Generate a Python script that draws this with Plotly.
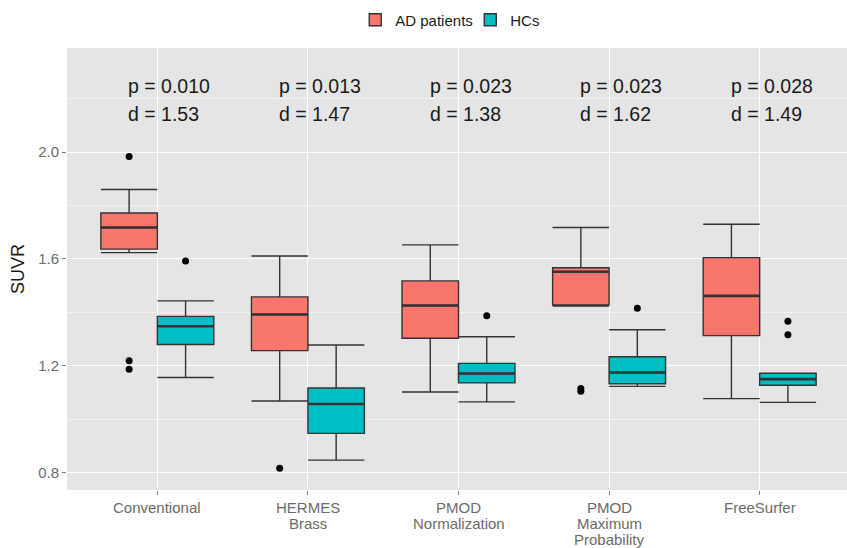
import plotly.graph_objects as go

categories = ["Conventional", "HERMES<br>Brass", "PMOD<br>Normalization", "PMOD<br>Maximum<br>Probability", "FreeSurfer"]

# AD patients
ad_lower = [1.624, 1.068, 1.102, 1.424, 1.077]
ad_q1 = [1.637, 1.257, 1.303, 1.428, 1.313]
ad_median = [1.718, 1.392, 1.426, 1.552, 1.462]
ad_q3 = [1.772, 1.458, 1.518, 1.567, 1.605]
ad_upper = [1.860, 1.611, 1.653, 1.718, 1.730]
ad_outliers = [[1.984, 1.219, 1.187], [0.816], [], [1.115, 1.105], []]

# HCs
hc_lower = [1.156, 0.847, 1.065, 1.123, 1.063]
hc_q1 = [1.280, 0.947, 1.136, 1.133, 1.127]
hc_median = [1.348, 1.057, 1.171, 1.175, 1.150]
hc_q3 = [1.385, 1.117, 1.209, 1.234, 1.172]
hc_upper = [1.443, 1.278, 1.309, 1.335, 1.172]
hc_outliers = [[1.592], [], [1.387], [1.416], [1.367, 1.316]]

p_labels = ["p = 0.010", "p = 0.013", "p = 0.023", "p = 0.023", "p = 0.028"]
d_labels = ["d = 1.53", "d = 1.47", "d = 1.38", "d = 1.62", "d = 1.49"]

AD_COLOR = "#F8766D"
HC_COLOR = "#00BFC4"
LINE = "#333333"
FONT = "Liberation Sans, Arial"
W = 0.375

fig = go.Figure()
groups = [
    ("AD patients", AD_COLOR, -W / 2, ad_lower, ad_q1, ad_median, ad_q3, ad_upper, ad_outliers),
    ("HCs", HC_COLOR, W / 2, hc_lower, hc_q1, hc_median, hc_q3, hc_upper, hc_outliers),
]
n = len(categories)
for name, color, off, lo, q1, med, q3, up, outs in groups:
    xs = [i + off for i in range(n)]
    fig.add_trace(go.Box(
        name=name, x=xs, q1=q1, median=med, q3=q3, lowerfence=lo, upperfence=up,
        width=W, fillcolor=color, line=dict(color=LINE, width=1.4),
        whiskerwidth=1, boxpoints=False, legendgroup=name, showlegend=True,
    ))
    # thicker median segments
    mx, my = [], []
    for i in range(n):
        mx += [i + off - W / 2, i + off + W / 2, None]
        my += [med[i], med[i], None]
    fig.add_trace(go.Scatter(x=mx, y=my, mode="lines", line=dict(color=LINE, width=2.6),
                             showlegend=False, hoverinfo="skip", legendgroup=name))
    ox, oy = [], []
    for i in range(n):
        for v in outs[i]:
            ox.append(i + off)
            oy.append(v)
    fig.add_trace(go.Scatter(x=ox, y=oy, mode="markers", marker=dict(color="black", size=7),
                             showlegend=False, legendgroup=name))

for i in range(n):
    fig.add_annotation(x=i - 0.205, y=2.249, text=p_labels[i], showarrow=False, xanchor="left",
                       font=dict(size=19.5, color="#1a1a1a", family=FONT))
    fig.add_annotation(x=i - 0.205, y=2.143, text=d_labels[i], showarrow=False, xanchor="left",
                       font=dict(size=19.5, color="#1a1a1a", family=FONT))

# category labels, one line per annotation (tight ggplot-like line spacing)
for i, lab in enumerate(categories):
    for k, line in enumerate(lab.split("<br>")):
        fig.add_annotation(x=i, xref="x", y=0, yref="paper", yanchor="middle",
                           yshift=-17 - 16 * k, text=line, showarrow=False,
                           font=dict(size=15, color="#6b6b6b", family=FONT))

fig.update_layout(
    width=847, height=548,
    margin=dict(l=67, r=0, t=48, b=58, autoexpand=False),
    paper_bgcolor="white", plot_bgcolor="#E5E5E5",
    font=dict(family=FONT, color="#1a1a1a"),
    boxmode="overlay",
    legend=dict(orientation="h", x=0.517, xanchor="center", y=1 - 20 / 548, yanchor="middle",
                yref="container", font=dict(size=15, color="#1a1a1a"), itemwidth=30,
                entrywidth=70, entrywidthmode="pixels", traceorder="normal"),
    showlegend=True,
)
fig.update_xaxes(range=[-0.6, 4.58], tickvals=list(range(n)), showticklabels=False,
                 showgrid=True, gridcolor="white", gridwidth=1.2, zeroline=False,
                 ticks="outside", ticklen=4, tickcolor="#7f7f7f", automargin=False)
fig.update_yaxes(range=[0.735, 2.39], tickvals=[0.8, 1.2, 1.6, 2.0], ticktext=["0.8", "1.2", "1.6", "2.0"],
                 showgrid=True, gridcolor="white", gridwidth=1.2, zeroline=False,
                 minor=dict(tickvals=[1.0, 1.4, 1.8, 2.2], showgrid=True, gridcolor="#F2F2F2", gridwidth=0.6),
                 ticks="outside", ticklen=4, tickcolor="#7f7f7f", automargin=False,
                 tickfont=dict(size=15, color="#6b6b6b"),
                 title=dict(text="SUVR", font=dict(size=18, color="#1a1a1a"), standoff=8))

fig.write_html("out.html", config={"displayModeBar": False},
               post_script="document.body.style.margin='0';")
